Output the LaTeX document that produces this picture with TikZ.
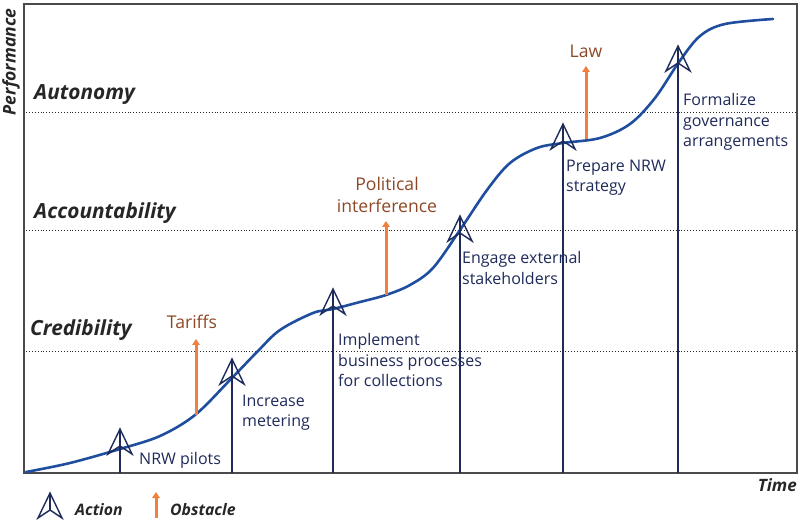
\documentclass[tikz,border=0pt]{standalone}
\usepackage{fontspec}
\setmainfont{Open Sans}
\usetikzlibrary{arrows.meta}
\definecolor{navy}{HTML}{1E2A5A}
\definecolor{curveblue}{HTML}{1F4E9F}
\definecolor{obstorange}{HTML}{F0803C}
\definecolor{obstbrown}{HTML}{8C4826}
\definecolor{framegray}{HTML}{4A4A4A}
\begin{document}
\begin{tikzpicture}[x=1pt,y=-1pt,
  framestyle/.style={draw=framegray,line width=1.5pt},
  levelline/.style={draw=black!85,dotted,line width=0.9pt},
  levellabel/.style={font=\fontsize{20.8}{24}\selectfont\bfseries\itshape,text=black!85,anchor=west,inner sep=0pt},
  actlabel/.style={font=\fontsize{16}{20.3}\selectfont,text=navy,anchor=west,align=left,inner sep=0pt},
  obstlabel/.style={font=\fontsize{17.6}{22}\selectfont,text=obstbrown,align=center,inner sep=0pt},
  actline/.style={draw=navy,line width=1.3pt},
  obstarrow/.style={draw=obstorange,line width=3pt,-{Triangle[length=6pt,width=7.5pt]}},
  legendtext/.style={font=\fontsize{15.8}{18}\selectfont\bfseries\itshape,text=black!85,anchor=west,inner sep=0pt},
  actmark/.pic={\draw[navy,line width=1.4pt,line join=miter] (0,0) -- (-12,25) -- (0,17) -- (12,25) -- cycle;}
]
\useasboundingbox (0,0) rectangle (798,521);
% frame
\draw[framestyle] (24,4) rectangle (797,473);
% level lines
\draw[levelline] (26,112) -- (797,112);
\draw[levelline] (26,230) -- (797,230);
\draw[levelline] (26,351) -- (797,351);
\node[levellabel] (auto) at (34,95) {Autonomy};
\node[levellabel] (acc) at (34,213) {Accountability};
\node[levellabel] (cred) at (30,330) {Credibility};
% axis labels
\node[font=\fontsize{17.5}{20}\selectfont\bfseries\itshape,text=black!85,rotate=90,inner sep=0pt] (perf) at (11,62) {Performance};
\node[font=\fontsize{17}{20}\selectfont\bfseries\itshape,text=black!85,anchor=east,inner sep=0pt] (time) at (797,485) {Time};
% curve
\draw[curveblue,line width=2.6pt,line cap=round] plot[smooth,tension=0.55] coordinates {
 (26,472) (70,463) (120,449) (160,436) (195,415) (230,380) (257,352) (280,330)
 (313,313) (333,309) (360,302) (386,295) (410,285) (433,268) (460,230) (487,190)
 (510,163) (537,148) (563,143) (600,138) (630,124) (655,98) (679,62) (700,36)
 (725,24) (773,19)};
% obstacles
\coordinate (o1s) at (196,415); \coordinate (o1e) at (196,339);
\coordinate (o2s) at (386,295); \coordinate (o2e) at (386,221);
\coordinate (o3s) at (586,139); \coordinate (o3e) at (586,66);
\draw[obstarrow] (o1s) -- (o1e);
\draw[obstarrow] (o2s) -- (o2e);
\draw[obstarrow] (o3s) -- (o3e);
\node[obstlabel] (tariffs) at (192,322) {Tariffs};
\node[obstlabel] (polit) at (387,195) {Political\\interference};
\node[obstlabel] (law) at (586,51) {Law};
% actions
\foreach \n/\x/\t in {1/120/429, 2/232/359, 3/333/289, 4/460/216, 5/563/124, 6/678/46}{
  \coordinate (m\n) at (\x,\t);
  \coordinate (b\n) at (\x,473);
  \draw[actline] (m\n) -- (b\n);
  \pic at (m\n) {actmark};
}
\node[actlabel] (l1) at (139,460) {NRW pilots};
\node[actlabel] (l2) at (242,413) {Increase\\metering};
\node[actlabel] (l3) at (338,360) {Implement\\business processes\\for collections};
\node[actlabel] (l4) at (462,268) {Engage external\\stakeholders};
\node[actlabel] (l5) at (566,178) {Prepare NRW\\strategy};
\node[actlabel] (l6) at (683,122) {Formalize\\governance\\arrangements};
% legend
\coordinate (lg1) at (50,493);
\coordinate (lg1b) at (50,510);
\pic at (lg1) {actmark};
\draw[actline] (lg1) -- (lg1b);
\node[legendtext] (lact) at (75,510) {Action};
\coordinate (lg2s) at (156,518); \coordinate (lg2e) at (156,492);
\draw[obstarrow] (lg2s) -- (lg2e);
\node[legendtext] (lobs) at (170,510) {Obstacle};
\end{tikzpicture}
\end{document}
